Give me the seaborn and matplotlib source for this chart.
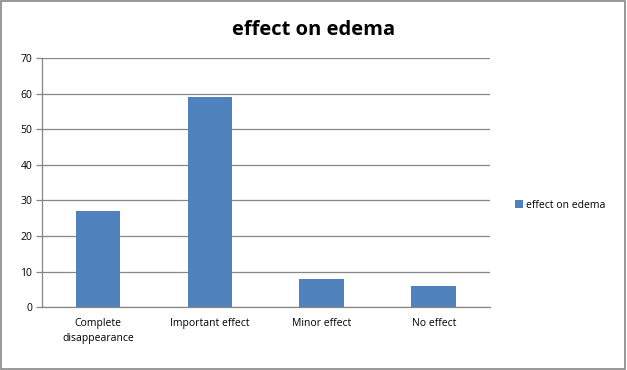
import matplotlib
matplotlib.use('Agg')
import matplotlib.pyplot as plt
import seaborn as sns
import pandas as pd
from matplotlib.patches import Rectangle

categories = ['Complete\ndisappearance', 'Important effect', 'Minor effect', 'No effect']
values = [27, 59, 8, 6]
series_name = 'effect on edema'

df = pd.DataFrame({'category': categories, 'value': values, 'series': series_name})

sns.set_style('white')
plt.rcParams['font.family'] = ['Open Sans', 'DejaVu Sans']
plt.rcParams['text.color'] = 'black'
plt.rcParams['xtick.color'] = 'black'
plt.rcParams['ytick.color'] = 'black'

fig = plt.figure(figsize=(6.27, 3.70), dpi=100)
ax = fig.add_axes([0.067, 0.170, 0.714, 0.673])

sns.barplot(data=df, x='category', y='value', hue='series', palette=['#4F81BD'],
            width=0.40, saturation=1, linewidth=0, edgecolor='none', ax=ax)

ax.set_xlim(-0.5, 3.5)
ax.set_ylim(0, 70)
ax.set_yticks(range(0, 71, 10))
ax.yaxis.grid(True, color='#868686', linewidth=0.9)
ax.set_axisbelow(True)
ax.set_xlabel('')
ax.set_ylabel('')
for s in ['top', 'right']:
    ax.spines[s].set_visible(False)
for s in ['left', 'bottom']:
    ax.spines[s].set_color('#868686')
    ax.spines[s].set_linewidth(0.9)

ax.tick_params(axis='x', which='major', length=0, labelsize=7.5, pad=8, labelcolor='black')
ax.set_xticks([0.5, 1.5, 2.5, 3.5], minor=True)
ax.tick_params(axis='x', which='minor', length=4, color='#868686', width=0.9)
ax.tick_params(axis='y', length=4, color='#868686', width=0.9, labelsize=7.5, pad=3,
               left=True, labelcolor='black')
for lbl in ax.get_xticklabels():
    lbl.set_linespacing(1.5)

ax.legend(loc='center left', bbox_to_anchor=(1.035, 0.41), frameon=False,
          fontsize=7.5, handlelength=0.8, handleheight=0.8, handletextpad=0.3)

fig.text(0.5, 0.92, 'effect on edema', ha='center', va='center', fontsize=14.5,
         fontweight='bold', color='black')
fig.patches.append(Rectangle((0.002, 0.003), 0.995, 0.994, transform=fig.transFigure,
                             fill=False, edgecolor='#868686', linewidth=1.2))

fig.savefig('out.png', dpi=100)
